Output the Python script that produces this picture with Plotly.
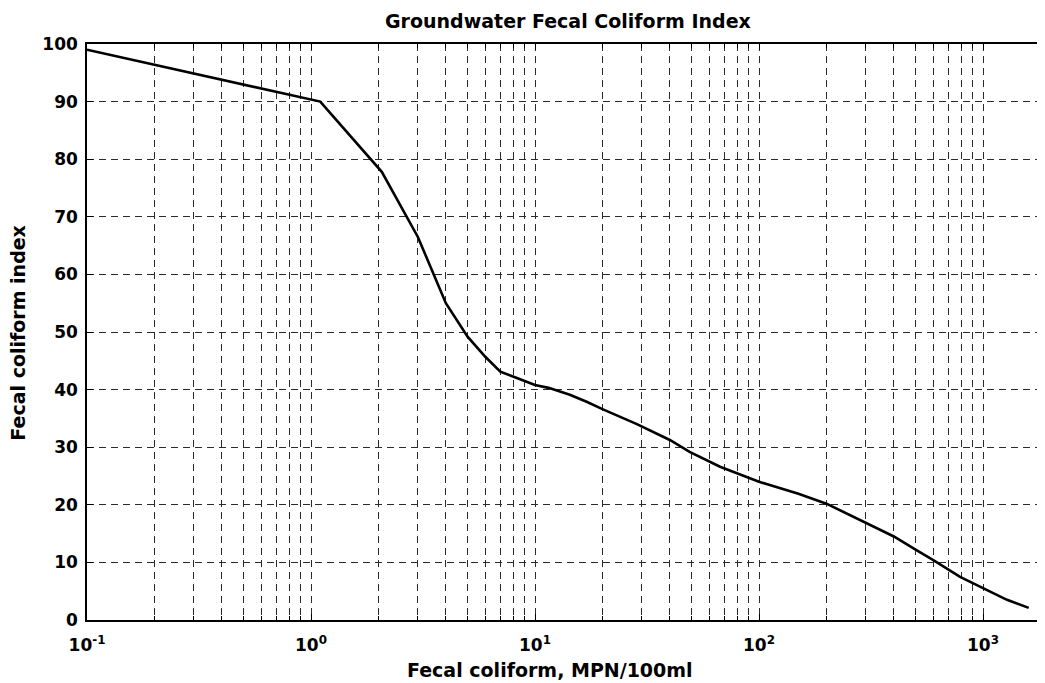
import plotly.graph_objects as go

# Data
fecal_coliform = [0.1, 1.1, 2.07, 3.0, 4.0, 5.0, 6.0, 7.0, 8.3, 10, 11.5, 14.3, 17, 20,
                  28.5, 40, 49, 67, 100, 150, 200, 300, 400, 500, 600, 790, 1000, 1280, 1600]
fc_index = [99, 90, 77.8, 66.5, 55.0, 49.2, 45.7, 43.1, 42.0, 40.8, 40.3, 39.1, 37.9, 36.6,
            34.0, 31.25, 29.2, 26.6, 24.0, 21.9, 20.2, 16.9, 14.5, 12.2, 10.4, 7.5, 5.5, 3.5, 2.1]

x_tickvals = [0.1, 1, 10, 100, 1000]
x_ticktext = ["10<sup>-1</sup>", "10<sup>0</sup>", "10<sup>1</sup>", "10<sup>2</sup>", "10<sup>3</sup>"]
x_minor = [m * 10 ** e for e in range(-1, 4) for m in range(2, 10)]
y_tickvals = [0, 10, 20, 30, 40, 50, 60, 70, 80, 90, 100]

FONT = "DejaVu Sans"
GRID = "#2a2a2a"
DASH = "7px,5px"

fig = go.Figure(go.Scatter(x=fecal_coliform, y=fc_index, mode="lines",
                           line=dict(color="black", width=2.6), showlegend=False))

# The page body has an 8px margin, so the figure is sized/offset to compensate.
fig.update_layout(
    width=1037, height=675,
    margin=dict(l=79, r=0, t=36, b=63),
    paper_bgcolor="white", plot_bgcolor="white",
    font=dict(family=FONT, color="black"),
    xaxis=dict(type="log", range=[-1, 3.2768],
               tickvals=x_tickvals, ticktext=x_ticktext,
               tickfont=dict(family=FONT, size=17, weight="bold", color="black"),
               ticks="inside", ticklen=6, tickwidth=1, tickcolor="black",
               ticklabelstandoff=9,
               showline=True, linecolor="black", linewidth=1.5, mirror="ticks",
               showgrid=True, gridcolor=GRID, gridwidth=1, griddash=DASH,
               zeroline=False,
               minor=dict(tickvals=x_minor, ticks="inside", ticklen=4, tickcolor="black",
                          showgrid=True, gridcolor=GRID, gridwidth=1, griddash=DASH)),
    yaxis=dict(range=[0, 100], tickvals=y_tickvals,
               tickfont=dict(family=FONT, size=17, weight="bold", color="black"),
               ticks="inside", ticklen=6, tickwidth=1, tickcolor="black",
               ticklabelstandoff=4,
               showline=True, linecolor="black", linewidth=1.5, mirror=False,
               showgrid=True, gridcolor=GRID, gridwidth=1, griddash=DASH,
               zeroline=False),
    annotations=[
        dict(text="Groundwater Fecal Coliform Index", xref="paper", yref="paper",
             x=0.502, y=1.0399, xanchor="center", yanchor="middle", showarrow=False,
             font=dict(family=FONT, size=19, weight="bold", color="black")),
        dict(text="Fecal coliform, MPN/100ml", xref="paper", yref="paper",
             x=0.4833, y=-0.0868, xanchor="center", yanchor="middle", showarrow=False,
             font=dict(family=FONT, size=19, weight="bold", color="black")),
        dict(text="Fecal coliform index", xref="paper", yref="paper", textangle=-90,
             x=-0.0715, y=0.498, xanchor="center", yanchor="middle", showarrow=False,
             font=dict(family=FONT, size=19, weight="bold", color="black")),
    ],
)

fig.write_html("out.html")
